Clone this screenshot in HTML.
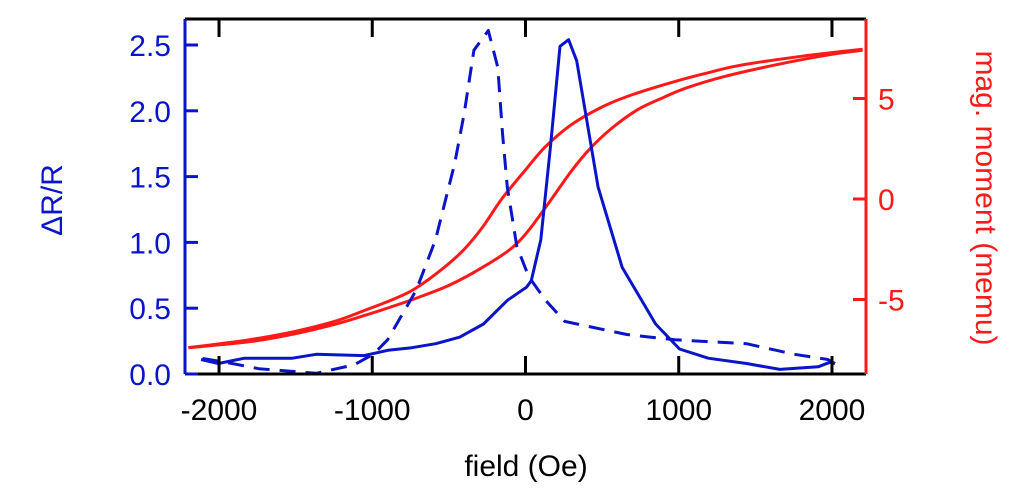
<!DOCTYPE html>
<html><head><meta charset="utf-8"><style>
body{margin:0;background:#fff;}
svg{display:block;font-family:"Liberation Sans","DejaVu Sans",sans-serif;}
</style></head><body>
<svg id="chart" width="1024" height="499" viewBox="0 0 1024 499" style="position:absolute;left:0;top:0">
<g id="marks"></g>
<g id="axes"></g>
<text x="526" y="476" text-anchor="middle" font-size="30" fill="#000">field (Oe)</text>
<text transform="translate(62,200) rotate(-90)" text-anchor="middle" font-size="30" fill="#0a14c8">ΔR/R</text>
<text transform="translate(976,198) rotate(90)" text-anchor="middle" font-size="30" fill="#ff1a1a">mag. moment (memu)</text>
</svg>
<script>
const xTicks=[-2000,-1000,0,1000,2000];
const leftTicks=[0,0.5,1.0,1.5,2.0,2.5];
const leftTickLabels=["0.0","0.5","1.0","1.5","2.0","2.5"];
const rightTicks=[-5,0,5];
const rightTickLabels=["-5","0","5"];
const solidField=[-2117,-2005,-1834,-1522,-1366,-1054,-898,-742,-586,-430,-274,-118,7,38,100,163,225,281,334,474,631,849,1005,1192,1442,1660,1910,1988,2020];
const solidDR=[0.11,0.08,0.12,0.12,0.15,0.14,0.18,0.2,0.23,0.28,0.38,0.56,0.66,0.71,1.02,1.73,2.49,2.54,2.38,1.42,0.81,0.38,0.19,0.12,0.08,0.035,0.055,0.09,0.08];
const dashField=[2020,1973,1754,1442,974,661,256,131,21,-57,-119,-150,-181,-243,-337,-400,-462,-587,-712,-900,-993,-1118,-1366,-1522,-1740,-1959,-2116];
const dashDR=[0.08,0.11,0.15,0.23,0.26,0.3,0.4,0.56,0.74,0.97,1.42,1.83,2.33,2.61,2.46,1.98,1.6,1.02,0.64,0.26,0.15,0.07,0.005,0.02,0.04,0.09,0.12];
const upField=[-2200,-1800,-1512,-1250,-1053,-850,-718,-530,-400,-280,-155,0,130,300,506,700,977,1200,1400,1800,2200];
const upMoment=[-7.4,-7.0,-6.6,-6.1,-5.55,-4.95,-4.45,-3.4,-2.5,-1.4,0,1.45,2.6,3.7,4.6,5.2,5.85,6.3,6.65,7.1,7.45];
const lowField=[-2200,-1800,-1500,-1250,-1053,-850,-718,-500,-280,-100,16,170,300,420,560,733,900,1040,1300,1650,2000,2200];
const lowMoment=[-7.4,-7.1,-6.7,-6.25,-5.8,-5.3,-4.95,-4.3,-3.4,-2.5,-1.6,0,1.4,2.5,3.5,4.45,5.05,5.5,6.1,6.7,7.2,7.4];

const L=185,R=866,T=19,B=374;
const xs=v=>L+(v+2222)/(4444)*(R-L);
const yl=v=>B-v*131.6;
const yr=v=>199-v*20.1;
const NS="http://www.w3.org/2000/svg";
const marks=document.getElementById('marks'),axes=document.getElementById('axes');
function mk(tag,attrs,parent){const e=document.createElementNS(NS,tag);for(const k in attrs)e.setAttribute(k,attrs[k]);parent.appendChild(e);return e;}
function pathD(xa,ya,fx,fy,smooth){
  const P=xa.map((v,i)=>[fx(v),fy(ya[i])]);
  if(!smooth) return P.map((p,i)=>(i?'L':'M')+p[0].toFixed(1)+','+p[1].toFixed(1)).join('');
  let d='M'+P[0][0].toFixed(1)+','+P[0][1].toFixed(1);
  for(let i=0;i<P.length-1;i++){
    const p0=P[Math.max(i-1,0)],p1=P[i],p2=P[i+1],p3=P[Math.min(i+2,P.length-1)];
    const c1=[p1[0]+(p2[0]-p0[0])/6,p1[1]+(p2[1]-p0[1])/6];
    const c2=[p2[0]-(p3[0]-p1[0])/6,p2[1]-(p3[1]-p1[1])/6];
    d+='C'+c1.map(n=>n.toFixed(1)).join(',')+' '+c2.map(n=>n.toFixed(1)).join(',')+' '+p2.map(n=>n.toFixed(1)).join(',');
  }
  return d;
}
function line(xa,ya,fx,fy,stroke,dash,name,smooth){
  const p=mk('path',{d:pathD(xa,ya,fx,fy,smooth),fill:'none',stroke:stroke,'stroke-width':3,'stroke-linejoin':'round'},marks);
  if(dash)p.setAttribute('stroke-dasharray',dash);
  
  
}
line(upField,upMoment,xs,yr,'#ff1a1a',null,'moment-descending-branch',true);
line(lowField,lowMoment,xs,yr,'#ff1a1a',null,'moment-ascending-branch',true);
line(solidField,solidDR,xs,yl,'#0a14c8',null,'dr-solid-curve',false);
line(dashField,dashDR,xs,yl,'#0a14c8','16,10','dr-dashed-curve',false);

let f=mk('line',{x1:L,y1:T,x2:R,y2:T,stroke:'#000','stroke-width':3},axes);

f=mk('line',{x1:L,y1:B,x2:R,y2:B,stroke:'#000','stroke-width':3},axes);

f=mk('line',{x1:L,y1:T,x2:L,y2:B,stroke:'#0a14c8','stroke-width':3},axes);

f=mk('line',{x1:R,y1:T,x2:R,y2:B,stroke:'#ff1a1a','stroke-width':3},axes);


xTicks.forEach(v=>{const x=xs(v);
  mk('line',{x1:x,y1:T,x2:x,y2:T+18,stroke:'#000','stroke-width':3},axes);
  mk('line',{x1:x,y1:B,x2:x,y2:B-18,stroke:'#000','stroke-width':3},axes);
  const t=mk('text',{x:x,y:420,'text-anchor':'middle','font-size':30,fill:'#000'},axes);
  t.textContent=v;
  
  
});
leftTicks.forEach((v,i)=>{const y=yl(v);
  mk('line',{x1:L,y1:y,x2:L+13,y2:y,stroke:'#0a14c8','stroke-width':3},axes);
  const t=mk('text',{x:L-14,y:y+11,'text-anchor':'end','font-size':30,fill:'#0a14c8'},axes);
  t.textContent=leftTickLabels[i];
  
  
});
rightTicks.forEach((v,i)=>{const y=yr(v);
  mk('line',{x1:R,y1:y,x2:R-13,y2:y,stroke:'#ff1a1a','stroke-width':3},axes);
  const t=mk('text',{x:R+12,y:y+11,'text-anchor':'start','font-size':30,fill:'#ff1a1a'},axes);
  t.textContent=rightTickLabels[i];
  
  
});
</script>
</body></html>
